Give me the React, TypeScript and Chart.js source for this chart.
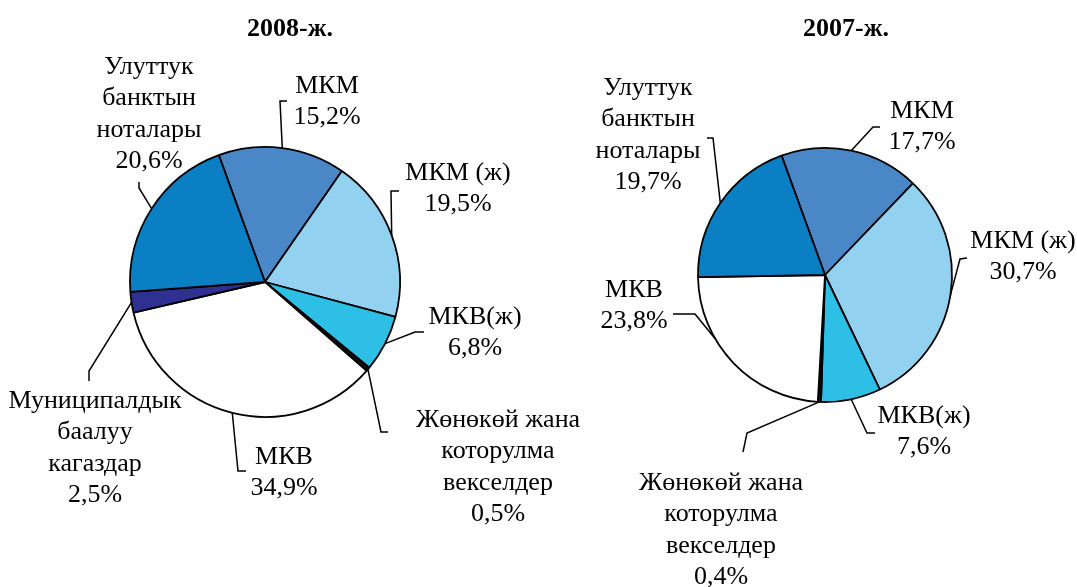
import React, { useEffect, useRef } from 'react';
import { Chart, registerables } from 'chart.js';

Chart.register(...registerables);

// ---------- data ----------
const title2008 = '2008-ж.';
const categories2008 = [
  'МКМ',
  'МКМ (ж)',
  'МКВ(ж)',
  'Жөнөкөй жана которулма векселдер',
  'МКВ',
  'Муниципалдык баалуу кагаздар',
  'Улуттук банктын ноталары',
];
const values2008 = [15.2, 19.5, 6.8, 0.5, 34.9, 2.5, 20.6];

const title2007 = '2007-ж.';
const categories2007 = [
  'МКМ',
  'МКМ (ж)',
  'МКВ(ж)',
  'Жөнөкөй жана которулма векселдер',
  'МКВ',
  'Улуттук банктын ноталары',
];
const values2007 = [17.7, 30.7, 7.6, 0.4, 23.8, 19.7];

// how each category label is broken into lines
const labelLines: Record<string, string[]> = {
  'МКМ': ['МКМ'],
  'МКМ (ж)': ['МКМ (ж)'],
  'МКВ(ж)': ['МКВ(ж)'],
  'Жөнөкөй жана которулма векселдер': ['Жөнөкөй жана', 'которулма', 'векселдер'],
  'МКВ': ['МКВ'],
  'Муниципалдык баалуу кагаздар': ['Муниципалдык', 'баалуу', 'кагаздар'],
  'Улуттук банктын ноталары': ['Улуттук', 'банктын', 'ноталары'],
};

// ---------- styles ----------
const colorByCategory: Record<string, string> = {
  'МКМ': '#4a87c7',
  'МКМ (ж)': '#92d1ef',
  'МКВ(ж)': '#2dbfe6',
  'Жөнөкөй жана которулма векселдер': '#111111',
  'МКВ': '#ffffff',
  'Муниципалдык баалуу кагаздар': '#2e3192',
  'Улуттук банктын ноталары': '#0a7fc4',
};

const FONT = '"Liberation Serif", "Times New Roman", serif';
const FONT_SIZE = 26;
const LINE_H = 31.4;
const TITLE_SIZE = 26;

type LabelLayout = {
  text: [number, number]; // label centre x / first baseline, relative to pie centre
  elbow: [number, number];
  end: [number, number];
  frac?: number; // where on the arc the leader starts (0..1 of the slice)
};

const layout2008: LabelLayout[] = [
  { text: [62, -189], elbow: [15, -181], end: [22, -181] },
  { text: [193, -102], elbow: [126, -91], end: [134, -91] },
  { text: [210, 42], elbow: [150, 50], end: [159, 50] },
  { text: [233, 145], elbow: [116, 150], end: [123, 150] },
  { text: [19, 182], elbow: [-27, 189], end: [-19, 189] },
  { text: [-170, 126], elbow: [-176, 89], end: [-176, 99] },
  { text: [-116, -208], elbow: [-126, -94], end: [-126, -100] },
];

const layout2007: LabelLayout[] = [
  { text: [97, -157], elbow: [48, -148], end: [55, -148] },
  { text: [198, -27], elbow: [135, -16], end: [142, -17] },
  { text: [99, 148], elbow: [42, 158], end: [50, 158] },
  { text: [-104, 215], elbow: [-78, 158], end: [-82, 177] },
  { text: [-191, 22], elbow: [-130, 39], end: [-152, 39], frac: 0.66 },
  { text: [-177, -180], elbow: [-112, -137], end: [-118, -137] },
];

const fmtPct = (v: number) => v.toFixed(1).replace('.', ',') + '%';

function makeLabelPlugin(
  title: string,
  titleX: number,
  titleY: number,
  categories: string[],
  values: number[],
  layout: LabelLayout[]
) {
  return {
    id: 'pieLabels',
    afterDraw(chart: any) {
      const ctx = chart.ctx as CanvasRenderingContext2D;
      const meta = chart.getDatasetMeta(0);
      ctx.save();
      ctx.fillStyle = '#000';
      ctx.textAlign = 'center';
      ctx.textBaseline = 'alphabetic';
      ctx.font = `bold ${TITLE_SIZE}px ${FONT}`;
      ctx.fillText(title, titleX, titleY);

      ctx.font = `${FONT_SIZE}px ${FONT}`;
      ctx.strokeStyle = '#000';
      ctx.lineWidth = 1.5;
      meta.data.forEach((arc: any, i: number) => {
        const p = arc.getProps(['x', 'y', 'startAngle', 'endAngle', 'outerRadius'], true);
        const L = layout[i];
        if (!L) return;
        const f = L.frac ?? 0.5;
        const a = p.startAngle + (p.endAngle - p.startAngle) * f;
        const sx = p.x + p.outerRadius * Math.cos(a);
        const sy = p.y + p.outerRadius * Math.sin(a);
        ctx.beginPath();
        ctx.moveTo(sx, sy);
        ctx.lineTo(p.x + L.elbow[0], p.y + L.elbow[1]);
        ctx.lineTo(p.x + L.end[0], p.y + L.end[1]);
        ctx.stroke();
        const lines = [...(labelLines[categories[i]] || [categories[i]]), fmtPct(values[i])];
        lines.forEach((t, k) => {
          ctx.fillText(t, p.x + L.text[0], p.y + L.text[1] + k * LINE_H);
        });
      });
      ctx.restore();
    },
  };
}

type PieProps = {
  title: string;
  titleX: number;
  titleY: number;
  categories: string[];
  values: number[];
  layout: LabelLayout[];
  centerX: number;
  centerY: number;
  radius: number;
  rotation: number;
};

const W = 1077;
const H = 587;

function PieChart(props: PieProps) {
  const ref = useRef<HTMLCanvasElement>(null);
  useEffect(() => {
    const { categories, values, centerX, centerY, radius, rotation } = props;
    const padding = {
      left: centerX - radius,
      right: W - (centerX + radius),
      top: centerY - radius,
      bottom: H - (centerY + radius),
    };
    const chart = new Chart(ref.current as HTMLCanvasElement, {
      type: 'pie',
      data: {
        labels: categories,
        datasets: [
          {
            data: values,
            backgroundColor: categories.map((c) => colorByCategory[c]),
            borderColor: '#000',
            borderWidth: 1.8,
            rotation,
            radius,
            hoverOffset: 0,
          } as any,
        ],
      },
      options: {
        responsive: false,
        maintainAspectRatio: false,
        animation: false,
        devicePixelRatio: 1,
        events: [],
        layout: { padding },
        plugins: {
          legend: { display: false },
          tooltip: { enabled: false },
          title: { display: false },
        },
      },
      plugins: [
        makeLabelPlugin(props.title, props.titleX, props.titleY, categories, values, props.layout),
      ],
    });
    return () => chart.destroy();
  }, []);
  return (
    <canvas
      ref={ref}
      width={W}
      height={H}
      style={{ position: 'absolute', left: 0, top: 0, width: W, height: H }}
    />
  );
}

export default function App() {
  return (
    <div
      style={{
        position: 'fixed',
        left: 0,
        top: 0,
        width: W,
        height: H,
        background: '#fff',
        overflow: 'hidden',
      }}
    >
      <PieChart
        title={title2008}
        titleX={290}
        titleY={36}
        categories={categories2008}
        values={values2008}
        layout={layout2008}
        centerX={265}
        centerY={282}
        radius={135}
        rotation={-20}
      />
      <PieChart
        title={title2007}
        titleX={846}
        titleY={36}
        categories={categories2007}
        values={values2007}
        layout={layout2007}
        centerX={825}
        centerY={275}
        radius={127}
        rotation={-20}
      />
    </div>
  );
}
